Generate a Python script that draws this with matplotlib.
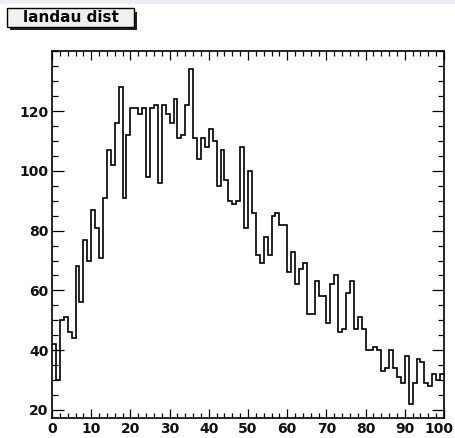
import numpy as np
import matplotlib
matplotlib.use('Agg')
import matplotlib.pyplot as plt
import matplotlib.transforms as mtransforms
from matplotlib.patches import Rectangle
from matplotlib.ticker import MultipleLocator

# --- DONNÉES (100 bins de 0 à 100) ---
bin_edges = np.arange(0, 101, 1)
counts = [42, 30, 50, 51, 46, 44, 68, 56, 77, 70,
          87, 81, 71, 91, 107, 102, 116, 128, 91, 112,
          121, 121, 119, 121, 98, 121, 122, 96, 122, 119,
          116, 124, 111, 112, 122, 134, 111, 104, 111, 108,
          114, 110, 95, 107, 97, 90, 89, 90, 108, 81,
          100, 86, 72, 69, 78, 72, 85, 86, 82, 82,
          66, 73, 62, 67, 69, 52, 52, 63, 58, 58,
          49, 62, 65, 46, 47, 59, 63, 47, 51, 47,
          40, 40, 41, 40, 33, 34, 40, 34, 31, 29,
          38, 22, 29, 37, 36, 29, 28, 32, 30, 32]
x_ticks = list(range(0, 101, 10))
y_ticks = [20, 40, 60, 80, 100, 120]
title = "landau dist"

# --- FIGURE ---
W, H = 456, 438
fig = plt.figure(figsize=(W / 100, H / 100), dpi=100)

# bande claire en haut (bord de fenêtre)
fig.patches.append(Rectangle((0, 1 - 4 / H), 1, 4 / H, transform=fig.transFigure,
                             facecolor='#e9eef7', edgecolor='none', zorder=0))

ax = fig.add_axes([52 / W, 1 - 418.3 / H, (444 - 52) / W, (418.3 - 50.7) / H])
ax.stairs(counts, bin_edges, color='black', linewidth=1.2, baseline=None)

ax.set_xlim(0, 100)
ax.set_ylim(17.2, 140.2)
ax.set_xticks(x_ticks)
ax.set_yticks(y_ticks)
ax.xaxis.set_minor_locator(MultipleLocator(2))
ax.yaxis.set_minor_locator(MultipleLocator(5))

ax.tick_params(which='both', direction='in', top=True, right=True,
               width=0.9, colors='black')
ax.xaxis.set_tick_params(which='major', length=6.5, pad=2.5)
ax.xaxis.set_tick_params(which='minor', length=3.3)
ax.yaxis.set_tick_params(which='major', length=8.6, pad=2.5)
ax.yaxis.set_tick_params(which='minor', length=4.5)

for lab in ax.get_xticklabels() + ax.get_yticklabels():
    lab.set_fontfamily('DejaVu Sans')
    lab.set_fontweight('bold')
    lab.set_fontsize(10)
    lab.set_color('#111111')

# le dernier label "100" est décalé un peu à gauche pour rester dans l'image
last = ax.get_xticklabels()[-1]
last.set_transform(last.get_transform() +
                   mtransforms.ScaledTranslation(-5 / 100, 0, fig.dpi_scale_trans))

for sp in ax.spines.values():
    sp.set_linewidth(1.2)

# --- BOITE DU TITRE (style ROOT) ---
bx, by, bw, bh = 7.3, 8.3, 126.7, 18.4   # pixels depuis le haut
fig.patches.append(Rectangle(((bx + 3) / W, 1 - (by + bh + 3.5) / H), bw / W, bh / H,
                             transform=fig.transFigure, facecolor='#222222',
                             edgecolor='none', zorder=1))
fig.patches.append(Rectangle((bx / W, 1 - (by + bh) / H), bw / W, bh / H,
                             transform=fig.transFigure, facecolor='#f0f0f0',
                             edgecolor='black', linewidth=1.0, zorder=2))
fig.text((bx + bw / 2) / W, 1 - (by + bh / 2) / H, title, ha='center', va='center',
         fontfamily='DejaVu Sans', fontweight='bold', fontsize=11, zorder=3)

fig.savefig('out.png', dpi=100)
